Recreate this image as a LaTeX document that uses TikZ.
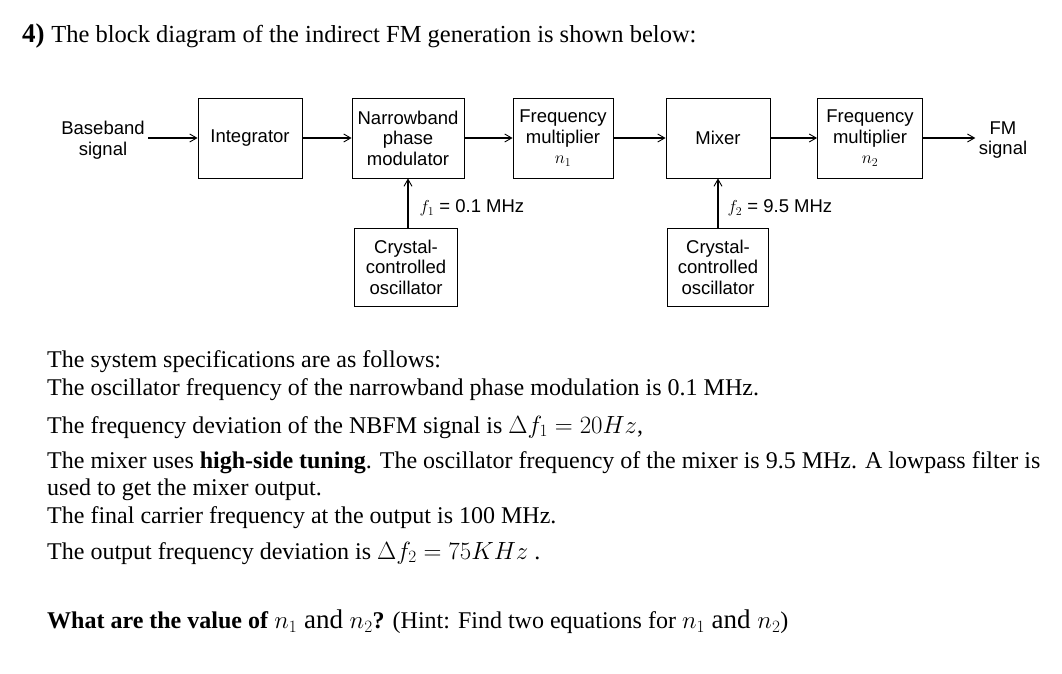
\documentclass[tikz,border=0pt]{standalone}
\usepackage{fontspec}
\setmainfont{Liberation Serif}
\newfontfamily\diag{Liberation Sans}
\usetikzlibrary{arrows.meta}
\begin{document}
\begin{tikzpicture}[x=1pt,y=-1pt,
  blk/.style={draw,line width=0.8pt,inner sep=0pt,font=\diag\fontsize{18.5}{20.5}\selectfont,align=center},
  lab/.style={font=\diag\fontsize{18.5}{20.5}\selectfont,align=center},
  arr/.style={line width=1.6pt,-{Straight Barb[length=7pt,width=8pt,line width=0.9pt]}},
  txt/.style={anchor=west,inner sep=0pt,font=\fontsize{24}{27}\selectfont}]
\useasboundingbox (0,0) rectangle (1062,674);
\node[txt,anchor=west] (title) at (22,36) {\fontsize{27}{30}\selectfont\textbf{4)}\ \fontsize{24.5}{28}\selectfont The block diagram of the indirect FM generation is shown below:};
\node[lab] (in) at (103,140) {Baseband\\signal};
\node[blk,minimum width=104pt,minimum height=80pt] (int) at (250,138) {Integrator};
\node[blk,minimum width=112pt,minimum height=80pt] (nb) at (408,138) {Narrowband\\phase\\modulator};
\node[blk,minimum width=100pt,minimum height=80pt] (fm1) at (563,138) {Frequency\\multiplier\\$n_1$};
\node[blk,minimum width=104pt,minimum height=80pt] (mix) at (718,138) {Mixer};
\node[blk,minimum width=105pt,minimum height=80pt] (fm2) at (870,138) {Frequency\\multiplier\\$n_2$};
\node[lab] (out) at (1003,140) {FM\\signal};
\node[blk,minimum width=103pt,minimum height=78pt] (xo1) at (406,267) {Crystal-\\controlled\\oscillator};
\node[blk,minimum width=101pt,minimum height=78pt] (xo2) at (718,267) {Crystal-\\controlled\\oscillator};
\node[lab,anchor=west] (f1) at (416,208) {$f_1$ = 0.1 MHz};
\node[lab,anchor=west] (f2) at (724,208) {$f_2$ = 9.5 MHz};
\draw[arr] (in.east|-int.west) -- (int.west);
\draw[arr] (int) -- (nb);
\draw[arr] (nb) -- (fm1);
\draw[arr] (fm1) -- (mix);
\draw[arr] (mix) -- (fm2);
\draw[arr] (fm2.east) -- (out.west|-fm2.east);
\draw[arr] (xo1.north-|nb.south) -- (nb.south);
\draw[arr] (xo2.north-|mix.south) -- (mix.south);
\node[txt] (l1) at (47,362) {The system specifications are as follows:};
\node[txt] (l2) at (47,390) {The oscillator frequency of the narrowband phase modulation is 0.1 MHz.};
\node[txt] (l3) at (47,427) {The frequency deviation of the NBFM signal is {\fontsize{27}{30}\selectfont$\Delta f_1 = 20Hz$},};
\node[txt] (l4) at (47,463) {The mixer uses \textbf{high-side tuning}. The oscillator frequency of the mixer is 9.5 MHz. A lowpass filter is};
\node[txt] (l5) at (47,490) {used to get the mixer output.};
\node[txt] (l6) at (47,518) {The final carrier frequency at the output is 100 MHz.};
\node[txt] (l7) at (47,553) {The output frequency deviation is {\fontsize{27}{30}\selectfont$\Delta f_2 = 75KHz$} .};
\node[txt] (l8) at (47,622) {\textbf{What are the value of} {\fontsize{27}{30}\selectfont$n_1$ and $n_2$}\textbf{?} (Hint: Find two equations for {\fontsize{27}{30}\selectfont$n_1$ and $n_2$})};
\end{tikzpicture}
\end{document}
